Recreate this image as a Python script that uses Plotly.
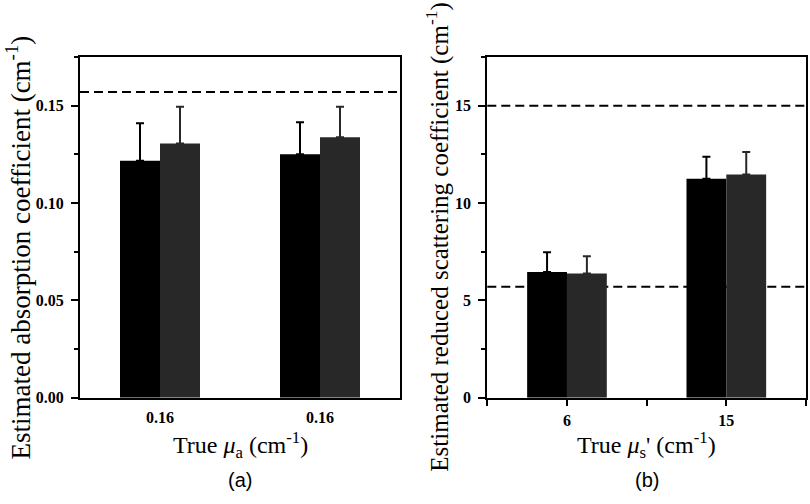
import plotly.graph_objects as go

# ---------------- data ----------------
cats_a = ["0.16", "0.16"]
est_a_black = [0.1217, 0.1250]
err_a_black = [0.0193, 0.0165]
est_a_gray = [0.1306, 0.1338]
err_a_gray = [0.0188, 0.0156]
true_a_lines = [0.157]

cats_s = ["6", "15"]
est_s_black = [6.46, 11.24]
err_s_black = [1.01, 1.13]
est_s_gray = [6.38, 11.46]
err_s_gray = [0.89, 1.16]
true_s_lines = [5.7, 15.0]

BLACK = "#000000"
GRAY = "#282828"
SERIF = "Liberation Serif, Times New Roman, serif"
SANS = "Liberation Sans, Arial, sans-serif"

W, H = 810, 504


def px_x(p):
    return p / W


def px_y(p):
    return 1 - p / H


def bar(xs, ys, errs, color, xa, ya):
    return go.Bar(
        x=xs, y=ys, xaxis=xa, yaxis=ya,
        marker=dict(color=color, line=dict(width=0)),
        error_y=dict(type="data", array=errs, arrayminus=[0] * len(errs),
                     symmetric=False, color=color, thickness=2, width=4),
        showlegend=False, hoverinfo="y",
    )


xa_idx = list(range(len(cats_a)))
xs_idx = list(range(len(cats_s)))

fig = go.Figure()
fig.add_trace(bar(xa_idx, est_a_black, err_a_black, BLACK, "x", "y"))
fig.add_trace(bar(xa_idx, est_a_gray, err_a_gray, GRAY, "x", "y"))
fig.add_trace(bar(xs_idx, est_s_black, err_s_black, BLACK, "x2", "y2"))
fig.add_trace(bar(xs_idx, est_s_gray, err_s_gray, GRAY, "x2", "y2"))

axis_common = dict(showline=True, mirror=True, linecolor="black", linewidth=2,
                   showgrid=False, zeroline=False)
tickfont = dict(family=SERIF, size=16, color="black", weight="bold")

fig.update_layout(
    width=W, height=H, autosize=False,
    margin=dict(l=0, r=0, t=0, b=0),
    paper_bgcolor="white", plot_bgcolor="white",
    barmode="group", bargap=0.5, bargroupgap=0,
    xaxis=dict(domain=[px_x(80), px_x(400)], range=[-0.5, 1.5],
               tickvals=xa_idx, ticktext=cats_a, ticks="", ticklabelstandoff=4,
               tickfont=tickfont, anchor="y", **axis_common),
    yaxis=dict(domain=[px_y(405), px_y(58)], range=[0, 0.175],
               tick0=0, dtick=0.05, tickformat=".2f",
               ticks="outside", ticklen=7, tickwidth=2, tickcolor="black",
               ticklabelstandoff=4,
               minor=dict(dtick=0.025, ticks="outside", ticklen=4, tickwidth=2, tickcolor="black"),
               tickfont=tickfont, anchor="x", **axis_common),
    xaxis2=dict(domain=[px_x(487.3), px_x(806)], range=[-0.5, 1.5],
                tickvals=xs_idx, ticktext=cats_s,
                ticks="outside", ticklen=6, tickwidth=2, tickcolor="black",
                ticklabelstandoff=1,
                minor=dict(tickvals=[-0.5, 0.5, 1.5], ticks="outside", ticklen=6,
                           tickwidth=2, tickcolor="black"),
                tickfont=tickfont, anchor="y2", **axis_common),
    yaxis2=dict(domain=[px_y(405), px_y(58)], range=[0, 17.5],
                tick0=0, dtick=5,
                ticks="outside", ticklen=7, tickwidth=2, tickcolor="black",
                ticklabelstandoff=4,
                minor=dict(dtick=2.5, ticks="outside", ticklen=4, tickwidth=2, tickcolor="black"),
                tickfont=tickfont, anchor="x2", **axis_common),
)

# dashed reference lines (true values)
for v in true_a_lines:
    fig.add_shape(type="line", xref="x domain", yref="y", x0=0, x1=1, y0=v, y1=v,
                  line=dict(color="black", width=2, dash="9px,5px"), layer="below")
for v in true_s_lines:
    fig.add_shape(type="line", xref="x2 domain", yref="y2", x0=0, x1=1, y0=v, y1=v,
                  line=dict(color="black", width=2, dash="9px,5px"), layer="below")

fig.add_annotation(text="Estimated absorption coefficient (cm<sup>-1</sup>)",
                   xref="paper", yref="paper", x=px_x(18), y=px_y(252),
                   textangle=-90, showarrow=False,
                   font=dict(family=SERIF, size=27, color="black"),
                   xanchor="center", yanchor="middle")
fig.add_annotation(text="Estimated reduced scattering coefficient (cm<sup>-1</sup>)",
                   xref="paper", yref="paper", x=px_x(438), y=px_y(242),
                   textangle=-90, showarrow=False,
                   font=dict(family=SERIF, size=25, color="black"),
                   xanchor="center", yanchor="middle")
xt_font = dict(family=SERIF, size=24, color="black")
fig.add_annotation(text="True <i>μ</i><sub>a</sub> (cm<sup>-1</sup>)",
                   xref="paper", yref="paper", x=px_x(240), y=px_y(453),
                   showarrow=False, font=xt_font, xanchor="center", yanchor="middle")
fig.add_annotation(text="True <i>μ</i><sub>s</sub>' (cm<sup>-1</sup>)",
                   xref="paper", yref="paper", x=px_x(646.7), y=px_y(453),
                   showarrow=False, font=xt_font, xanchor="center", yanchor="middle")
panel_font = dict(family=SANS, size=20, color="black")
fig.add_annotation(text="(a)", xref="paper", yref="paper", x=px_x(240), y=px_y(489),
                   showarrow=False, font=panel_font, xanchor="center", yanchor="middle")
fig.add_annotation(text="(b)", xref="paper", yref="paper", x=px_x(646.7), y=px_y(489),
                   showarrow=False, font=panel_font, xanchor="center", yanchor="middle")

fig.write_html("out.html", config={"displayModeBar": False, "responsive": False},
               post_script="document.body.style.margin='0';")
